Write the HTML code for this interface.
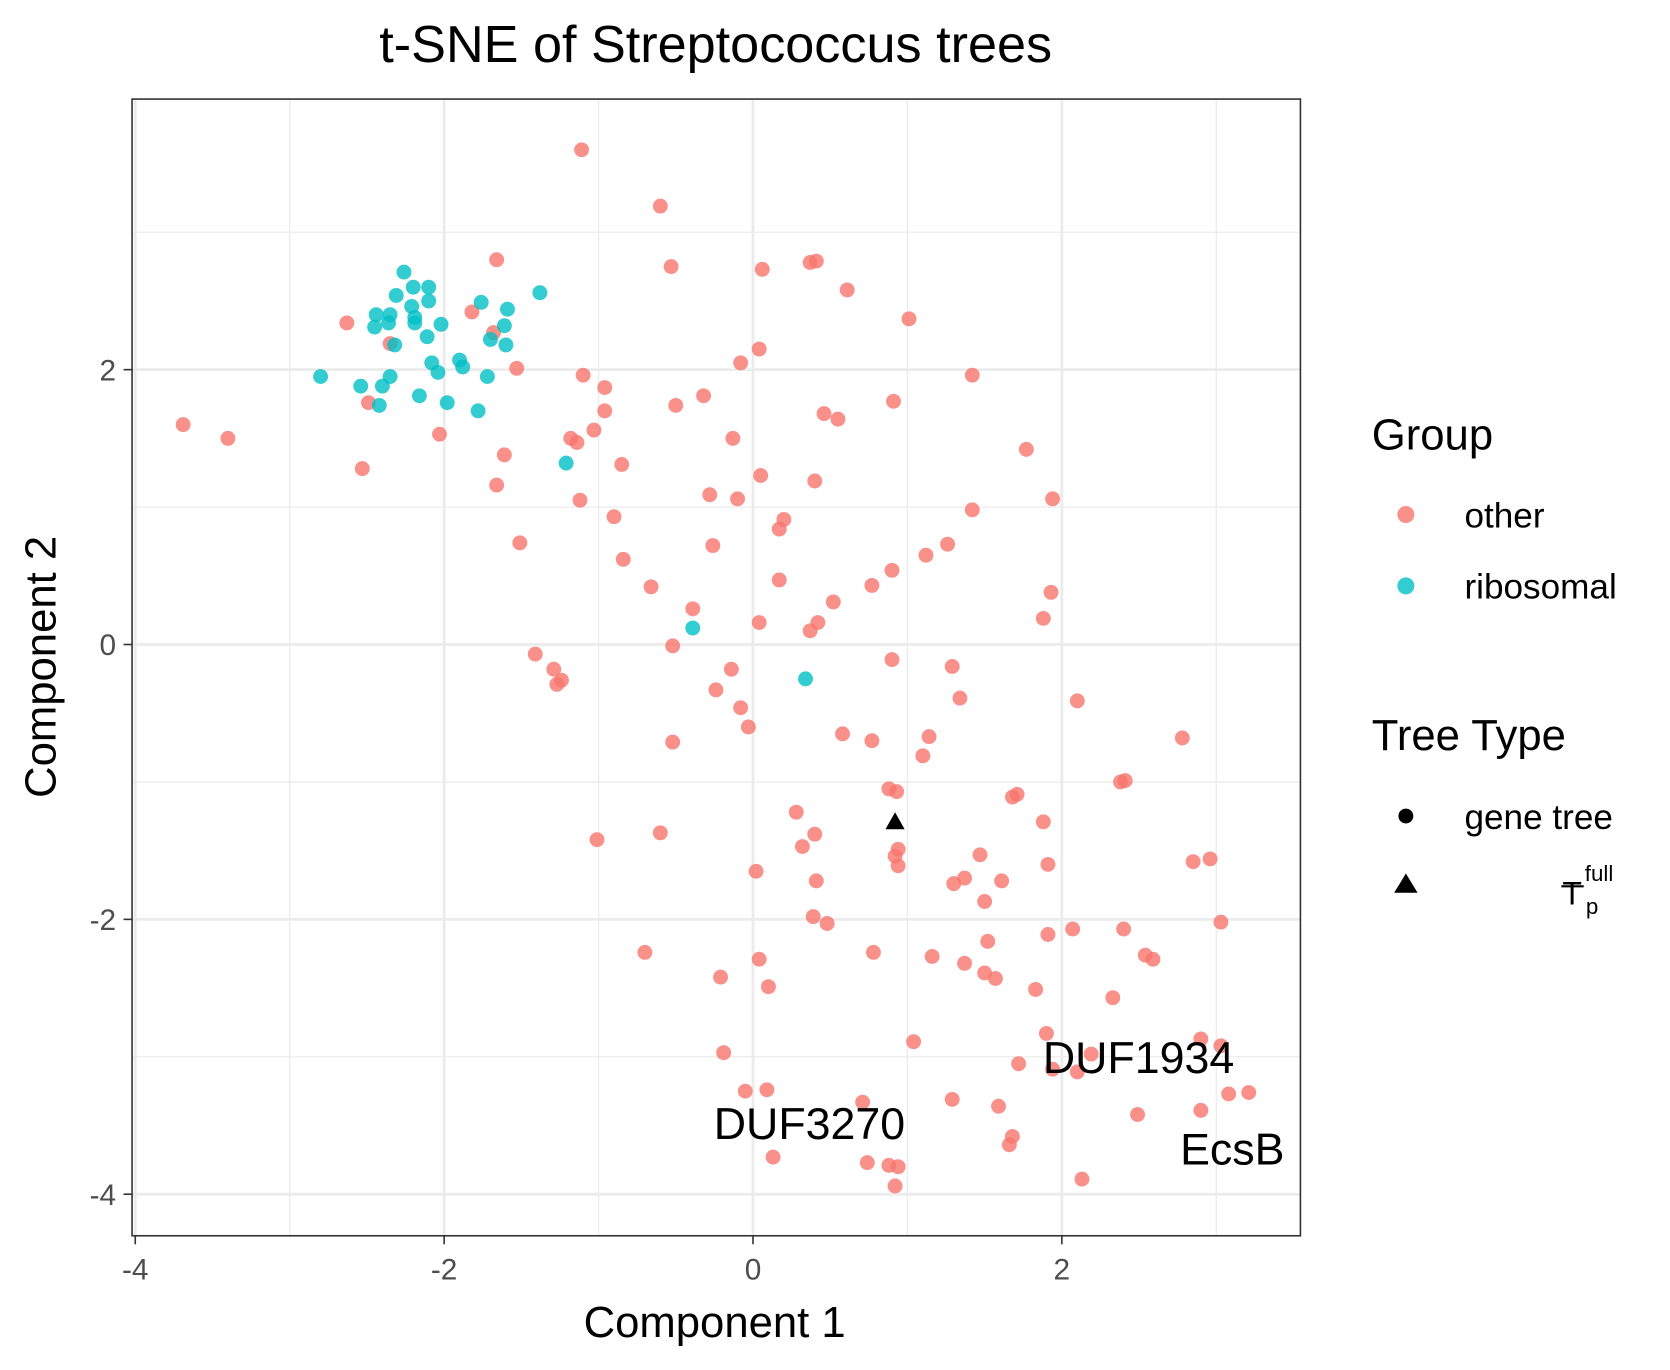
<!DOCTYPE html>
<html><head><meta charset="utf-8"><style>
html,body{margin:0;padding:0;background:#fff;}
svg{display:block;font-family:"Liberation Sans",Arial,sans-serif;}
</style></head><body>
<svg id="chart" width="1670" height="1370" viewBox="0 0 1568 1286" preserveAspectRatio="none" xmlns="http://www.w3.org/2000/svg">
<rect width="1568" height="1286" fill="#fff"/>
<text x="672" y="58" font-size="49" text-anchor="middle">t-SNE of Streptococcus trees</text>
<g id="grid"></g>
<g id="points"></g>
<rect x="124" y="93" width="1097" height="1067" fill="none" stroke="#333" stroke-width="1.5"/>
<g id="axes"></g>
<text x="1069" y="1007" font-size="42" text-anchor="middle">DUF1934</text>
<text x="760" y="1069" font-size="42" text-anchor="middle">DUF3270</text>
<text x="1157" y="1093" font-size="42" text-anchor="middle">EcsB</text>
<text x="671" y="1255" font-size="41" text-anchor="middle">Component 1</text>
<text transform="translate(52,626) rotate(-90)" font-size="41" text-anchor="middle">Component 2</text>
<g>
<text x="1288" y="422" font-size="41">Group</text>
<circle cx="1320" cy="483" r="8" fill="#F8766D" fill-opacity="0.8"/>
<text x="1375" y="495" font-size="33">other</text>
<circle cx="1320" cy="550" r="8" fill="#00BFC4" fill-opacity="0.8"/>
<text x="1375" y="562" font-size="33">ribosomal</text>
<text x="1288" y="704" font-size="41">Tree Type</text>
<circle cx="1320" cy="766" r="7" fill="#000"/>
<text x="1375" y="778" font-size="33">gene tree</text>
<polygon points="1320,820 1331,838 1309,838" fill="#000"/>
<g>
<line x1="1466" y1="832" x2="1487" y2="832" stroke="#000" stroke-width="2"/>
<text x="1467" y="849" font-size="30">T</text>
<text x="1488" y="827" font-size="21">full</text>
<text x="1489" y="858" font-size="21">p</text>
</g>
</g>
</svg>
<script>
const xTicks=[-4,-2,0,2];
const yTicks=[-4,-2,0,2];
const xMinor=[-3,-1,1,3];
const yMinor=[-3,-1,1,3];
const otherX=[-1.11,-0.60,-0.53,-1.66,0.06,0.37,0.41,0.61,1.01,-2.63,-1.82,-1.68,-2.35,0.04,-1.53,-0.08,-1.10,-0.96,1.42,-0.32,-0.50,-0.96,0.91,0.46,0.55,-3.69,-3.40,-2.49,-2.03,-1.03,-1.18,-1.14,-0.13,1.77,-2.53,-1.61,-0.85,0.05,0.40,-1.66,-0.28,-0.10,1.94,-1.12,-0.90,0.20,0.17,1.42,-1.51,-0.26,1.26,1.12,-0.84,0.90,0.17,0.77,-0.66,1.93,0.52,-0.39,1.88,0.04,0.42,0.37,-0.52,-1.41,-1.29,-1.24,-1.27,0.90,1.29,-0.14,-0.24,1.34,2.10,-0.08,-0.03,0.58,0.77,1.14,-0.52,2.78,1.10,2.38,2.41,0.88,0.93,1.68,1.71,0.28,1.88,0.40,-0.60,-1.01,0.32,0.94,0.92,1.47,2.96,2.85,1.91,0.94,0.02,0.41,1.61,1.37,1.30,1.50,0.39,0.48,3.03,2.07,2.40,1.91,1.52,-0.70,0.78,1.16,0.04,2.54,2.59,1.37,1.50,1.57,-0.21,0.10,1.83,2.33,1.04,1.90,2.90,3.03,2.19,-0.19,1.72,1.94,2.10,-0.05,0.09,3.21,3.08,0.71,1.29,1.59,2.90,2.49,1.68,1.66,0.13,0.74,0.88,0.94,2.13,0.92];
const otherY=[3.60,3.19,2.75,2.80,2.73,2.78,2.79,2.58,2.37,2.34,2.42,2.27,2.19,2.15,2.01,2.05,1.96,1.87,1.96,1.81,1.74,1.70,1.77,1.68,1.64,1.60,1.50,1.76,1.53,1.56,1.50,1.47,1.50,1.42,1.28,1.38,1.31,1.23,1.19,1.16,1.09,1.06,1.06,1.05,0.93,0.91,0.84,0.98,0.74,0.72,0.73,0.65,0.62,0.54,0.47,0.43,0.42,0.38,0.31,0.26,0.19,0.16,0.16,0.10,-0.01,-0.07,-0.18,-0.26,-0.29,-0.11,-0.16,-0.18,-0.33,-0.39,-0.41,-0.46,-0.60,-0.65,-0.70,-0.67,-0.71,-0.68,-0.81,-1.00,-0.99,-1.05,-1.07,-1.11,-1.09,-1.22,-1.29,-1.38,-1.37,-1.42,-1.47,-1.49,-1.54,-1.53,-1.56,-1.58,-1.60,-1.61,-1.65,-1.72,-1.72,-1.70,-1.74,-1.87,-1.98,-2.03,-2.02,-2.07,-2.07,-2.11,-2.16,-2.24,-2.24,-2.27,-2.29,-2.26,-2.29,-2.32,-2.39,-2.43,-2.42,-2.49,-2.51,-2.57,-2.89,-2.83,-2.87,-2.92,-2.98,-2.97,-3.05,-3.09,-3.11,-3.25,-3.24,-3.26,-3.27,-3.33,-3.31,-3.36,-3.39,-3.42,-3.58,-3.64,-3.73,-3.77,-3.79,-3.80,-3.89,-3.94];
const riboX=[-2.26,-2.20,-2.10,-2.31,-1.38,-2.10,-2.21,-1.76,-2.44,-2.35,-2.19,-2.19,-1.59,-2.02,-1.61,-2.45,-2.36,-1.70,-2.11,-2.32,-1.60,-1.90,-2.08,-1.88,-2.04,-2.80,-2.54,-2.35,-1.72,-2.40,-2.16,-1.98,-2.42,-1.78,-1.21,-0.39,0.34];
const riboY=[2.71,2.60,2.60,2.54,2.56,2.50,2.46,2.49,2.40,2.40,2.38,2.34,2.44,2.33,2.32,2.31,2.34,2.22,2.24,2.18,2.18,2.07,2.05,2.02,1.98,1.95,1.88,1.95,1.95,1.88,1.81,1.76,1.74,1.70,1.32,0.12,-0.25];
const consensusX=[0.92];
const consensusY=[-1.29];

const NS='http://www.w3.org/2000/svg';
const sx=v=>707+145*v;
const sy=v=>605-129*v;
function mk(tag,attrs,parent){const e=document.createElementNS(NS,tag);for(const k in attrs)e.setAttribute(k,attrs[k]);parent.appendChild(e);return e;}
const grid=document.getElementById('grid');
mk('rect',{x:124,y:93,width:1097,height:1067,fill:'#fff'},grid);
xMinor.forEach(v=>{if(sx(v)>124&&sx(v)<1221){const l=mk('line',{x1:sx(v),x2:sx(v),y1:93,y2:1160,stroke:'#ebebeb','stroke-width':1.2},grid);

}});
yMinor.forEach(v=>{const l=mk('line',{x1:124,x2:1221,y1:sy(v),y2:sy(v),stroke:'#ebebeb','stroke-width':1.2},grid);

});
xTicks.forEach(v=>{const l=mk('line',{x1:sx(v),x2:sx(v),y1:93,y2:1160,stroke:'#ebebeb','stroke-width':2.6},grid);

});
yTicks.forEach(v=>{const l=mk('line',{x1:124,x2:1221,y1:sy(v),y2:sy(v),stroke:'#ebebeb','stroke-width':2.6},grid);

});
const pts=document.getElementById('points');
otherX.forEach((v,i)=>{const c=mk('circle',{cx:sx(v),cy:sy(otherY[i]),r:7,fill:'#F8766D','fill-opacity':0.8},pts);

});
riboX.forEach((v,i)=>{const c=mk('circle',{cx:sx(v),cy:sy(riboY[i]),r:7,fill:'#00BFC4','fill-opacity':0.8},pts);

});
consensusX.forEach((v,i)=>{const x=sx(v),y=sy(consensusY[i]);const p=mk('polygon',{points:`${x},${y-9} ${x+9},${y+7} ${x-9},${y+7}`,fill:'#000'},pts);

});
const axes=document.getElementById('axes');
xTicks.forEach(v=>{mk('line',{x1:sx(v),x2:sx(v),y1:1160,y2:1168,stroke:'#333','stroke-width':1.5},axes);
const t=mk('text',{x:sx(v),y:1201,'font-size':28,'text-anchor':'middle',fill:'#4d4d4d'},axes);t.textContent=v;

});
yTicks.forEach(v=>{mk('line',{x1:116,x2:124,y1:sy(v),y2:sy(v),stroke:'#333','stroke-width':1.5},axes);
const t=mk('text',{x:109,y:sy(v)+10,'font-size':28,'text-anchor':'end',fill:'#4d4d4d'},axes);t.textContent=v;

});
</script>
</body></html>
